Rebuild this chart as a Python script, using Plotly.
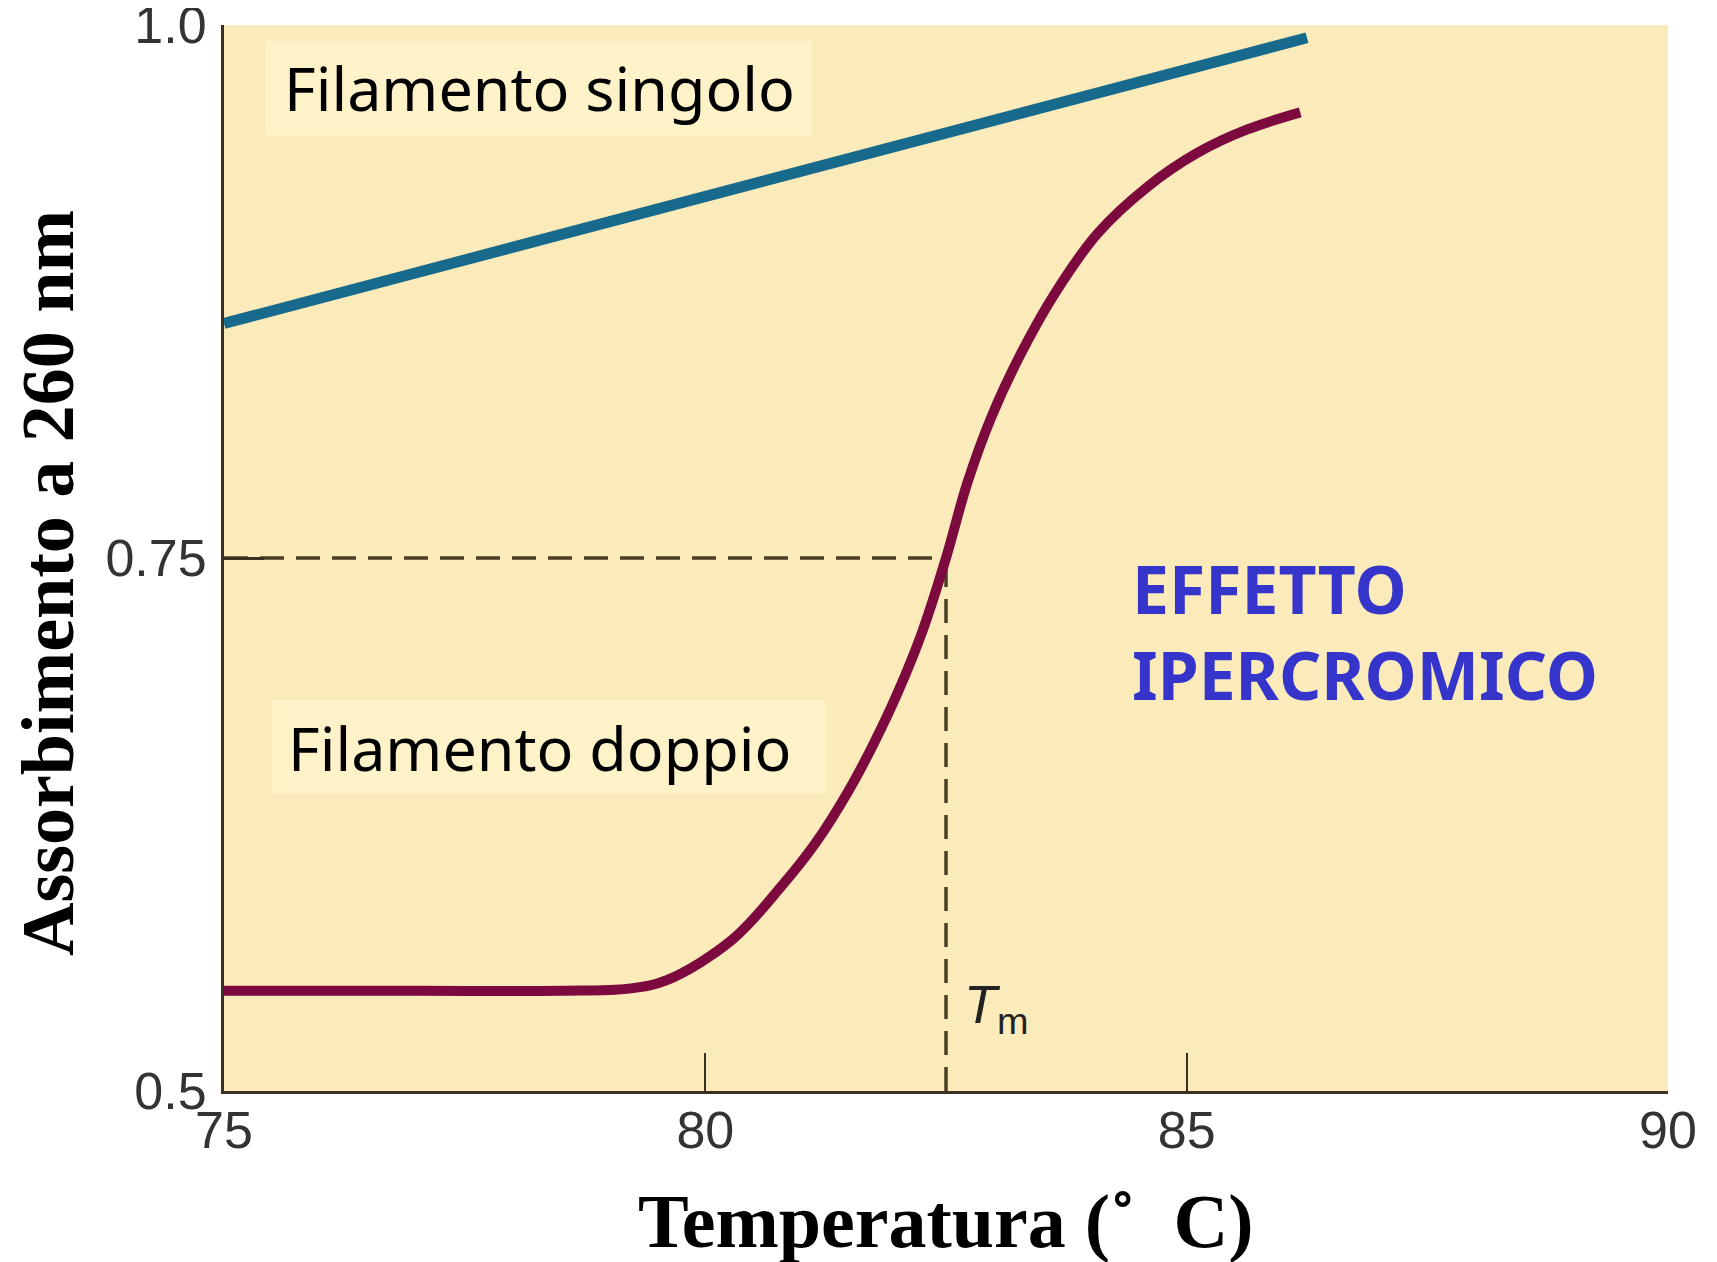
import plotly.graph_objects as go

# single strand (linear) and double strand (melting curve) absorbance vs temperature
temp_single = [75.0, 86.25]
abs_single = [0.860, 0.994]

temp_double = [75.0, 77.0, 78.5, 79.2, 79.6, 80.28, 80.79, 81.14, 81.49, 81.75, 82.0,
               82.25, 82.5, 82.72, 82.97, 83.28, 83.63, 84.07, 84.59, 85.11, 85.63, 86.18]
abs_double = [0.547, 0.547, 0.547, 0.548, 0.552, 0.571, 0.596, 0.616, 0.641, 0.663, 0.687,
              0.715, 0.750, 0.785, 0.816, 0.846, 0.874, 0.902, 0.924, 0.940, 0.951, 0.959]

tm = 82.5
tm_abs = 0.75

x_ticks = [75, 80, 85, 90]
y_ticks = [0.5, 0.75, 1.0]
y_ticktext = ["0.5", "0.75", "1.0"]

BG = "#fbebbb"
BOX = "#fef3c8"
AXIS = "#3a3120"

fig = go.Figure()

fig.add_trace(go.Scatter(x=temp_single, y=abs_single, mode="lines",
                         line=dict(color="#176a8c", width=11),
                         showlegend=False, hoverinfo="skip"))
fig.add_trace(go.Scatter(x=temp_double, y=abs_double, mode="lines",
                         line=dict(color="#7d0a3e", width=10, shape="spline", smoothing=1.0),
                         showlegend=False, hoverinfo="skip"))

# dashed guides for Tm
fig.add_shape(type="line", x0=75, x1=tm, y0=tm_abs, y1=tm_abs, layer="below",
              line=dict(color="#4a3f24", width=3.5, dash="24px,12px"))
fig.add_shape(type="line", x0=tm, x1=tm, y0=0.5, y1=tm_abs, layer="below",
              line=dict(color="#4a3f24", width=3.5, dash="24px,12px"))

# label boxes
fig.add_shape(type="rect", x0=75.43, x1=81.1, y0=0.948, y1=0.9925, layer="below",
              line=dict(width=0), fillcolor=BOX)
fig.add_shape(type="rect", x0=75.5, x1=81.25, y0=0.6395, y1=0.6835, layer="below",
              line=dict(width=0), fillcolor=BOX)

label_font = dict(family="Noto Sans", size=61, color="black")
fig.add_annotation(x=78.28, y=0.9705, text="Filamento singolo", showarrow=False,
                   font=label_font)
fig.add_annotation(x=78.28, y=0.6612, text="Filamento doppio", showarrow=False,
                   font=label_font)
fig.add_annotation(x=84.41, y=0.758, text="EFFETTO<br>IPERCROMICO", showarrow=False,
                   xanchor="left", yanchor="top", align="left",
                   font=dict(family="Noto Sans", size=66, color="#3535cc", weight="bold"))
fig.add_annotation(x=82.67, y=0.522, text="<i>T</i><sub>m</sub>", showarrow=False,
                   xanchor="left", yanchor="bottom",
                   font=dict(family="Liberation Sans", size=54, color="#222222"))

# axis titles
title_font = dict(family="Liberation Serif", size=74, color="black", weight="bold")
fig.add_annotation(xref="paper", yref="paper", x=0, y=0.4765, xshift=-176,
                   text="Assorbimento a 260 nm", textangle=-90, showarrow=False,
                   xanchor="center", yanchor="middle", font=title_font)
fig.add_annotation(xref="paper", yref="paper", x=0.5, y=-0.1225,
                   text="Temperatura (˚  C)", showarrow=False,
                   xanchor="center", yanchor="middle", font=dict(title_font, size=76))

fig.update_layout(
    width=1717, height=1262,
    margin=dict(l=216, r=57, t=17, b=179),
    paper_bgcolor="white",
    plot_bgcolor=BG,
    showlegend=False,
)

fig.update_xaxes(
    range=[75, 90], tickvals=x_ticks, showgrid=False, zeroline=False,
    showline=True, linecolor=AXIS, linewidth=3, automargin=False,
    ticks="inside", ticklen=38, tickwidth=2, tickcolor=AXIS,
    tickfont=dict(family="Liberation Sans", size=52, color="#333333"),
    ticklabelstandoff=-8, ticklabeloverflow="allow",
)
fig.update_yaxes(
    range=[0.5, 1.0], tickvals=y_ticks, ticktext=y_ticktext, showgrid=False, zeroline=False,
    showline=True, linecolor=AXIS, linewidth=3, automargin=False,
    ticks="inside", ticklen=40, tickwidth=3, tickcolor=AXIS,
    tickfont=dict(family="Liberation Sans", size=52, color="#333333"),
    ticklabelstandoff=4, ticklabeloverflow="allow",
)

fig.write_html("out.html")
